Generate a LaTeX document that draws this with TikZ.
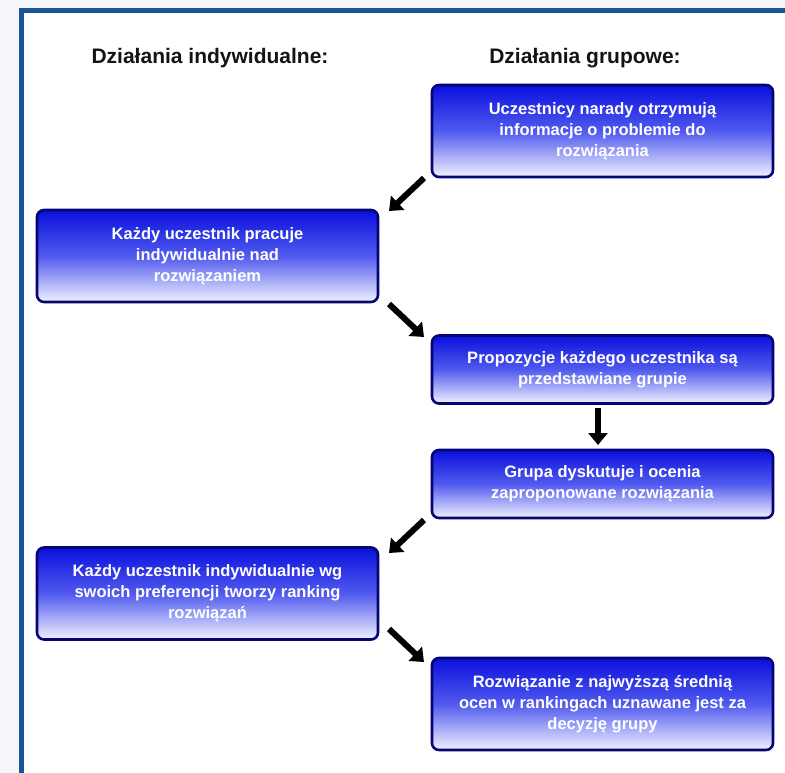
\documentclass[tikz,border=0pt]{standalone}
\usepackage{fontspec}
\setmainfont{Liberation Sans}
\usetikzlibrary{arrows.meta}
\definecolor{framec}{RGB}{25,85,150}
\definecolor{boxtop}{RGB}{10,15,220}
\definecolor{boxmid}{RGB}{80,90,238}
\definecolor{boxbot}{RGB}{242,242,255}
\definecolor{boxedge}{RGB}{5,5,115}
\definecolor{outside}{RGB}{244,246,249}
\tikzset{
  stepbox/.style={draw=boxedge, line width=2.6pt, rounded corners=7pt,
    top color=boxtop, bottom color=boxbot, middle color=boxmid,
    minimum width=341pt, minimum height=92pt, align=center,
    text=white, font=\bfseries\fontsize{16.5}{21}\selectfont, inner sep=0pt},
  shortbox/.style={stepbox, minimum height=68pt},
  header/.style={font=\bfseries\fontsize{21}{24}\selectfont, text=black!92},
  bigarrow/.style={line width=6pt, -{Triangle[length=12pt,width=19pt]}, black}
}
\begin{document}
\begin{tikzpicture}[x=1pt,y=-1pt]
\useasboundingbox (0,0) rectangle (785,773);
\fill[outside] (0,0) rectangle (785,773);
\fill[white] (21.5,10.5) rectangle (785,773);
\draw[framec, line width=5pt] (21.5,773) -- (21.5,10.5) -- (785,10.5);

\node[header] (h1) at (210,58) {Działania indywidualne:};
\node[header] (h2) at (585,58) {Działania grupowe:};

\node[stepbox] (b1) at (602.5,131) {Uczestnicy narady otrzymują\\informacje o problemie do\\rozwiązania};
\node[stepbox] (b2) at (207.5,256) {Każdy uczestnik pracuje\\indywidualnie nad\\rozwiązaniem};
\node[shortbox] (b3) at (602.5,369.5) {Propozycje każdego uczestnika są\\przedstawiane grupie};
\node[shortbox] (b4) at (602.5,484) {Grupa dyskutuje i ocenia\\zaproponowane rozwiązania};
\node[stepbox] (b5) at (207.5,593.5) {Każdy uczestnik indywidualnie wg\\swoich preferencji tworzy ranking\\rozwiązań};
\node[stepbox] (b6) at (602.5,704) {Rozwiązanie z najwyższą średnią\\ocen w rankingach uznawane jest za\\decyzję grupy};

\coordinate (a1s) at (424,178);
\coordinate (a1e) at (389,211);
\coordinate (a2s) at (389,304);
\coordinate (a2e) at (424,337);
\coordinate (a3s) at (598,408);
\coordinate (a3e) at (598,445);
\coordinate (a4s) at (424,520);
\coordinate (a4e) at (389,553);
\coordinate (a5s) at (389,629);
\coordinate (a5e) at (424,662);
\draw[bigarrow] (a1s) -- (a1e);
\draw[bigarrow] (a2s) -- (a2e);
\draw[bigarrow] (a3s) -- (a3e);
\draw[bigarrow] (a4s) -- (a4e);
\draw[bigarrow] (a5s) -- (a5e);
\end{tikzpicture}
\end{document}
